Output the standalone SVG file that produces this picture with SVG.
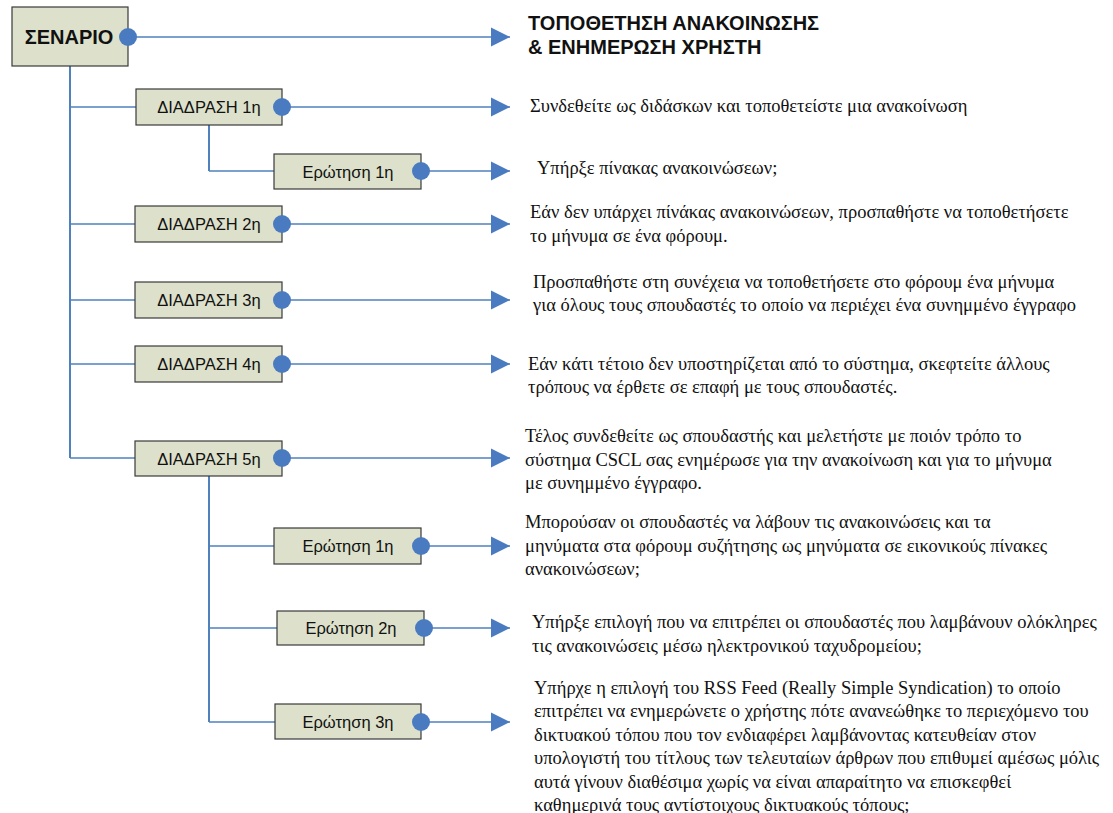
<svg xmlns="http://www.w3.org/2000/svg" width="1113" height="813" viewBox="0 0 1113 813">
  <style>
    .box { fill: #dde1cb; stroke: #3a3a3a; stroke-width: 1.2; }
    .lbl { font-family: "Liberation Sans", Arial, sans-serif; font-size: 16.5px; fill: #111; text-anchor: middle; }
    .root { font-family: "Liberation Sans", Arial, sans-serif; font-size: 20px; font-weight: bold; fill: #111; text-anchor: middle; }
    .dot { fill: #4a7bc0; }
    .wire { stroke: #4f81bd; stroke-width: 1.5; fill: none; }
    .trunk { stroke: #4f81bd; stroke-width: 2; fill: none; }
    .arrow { stroke: #4f81bd; stroke-width: 1.5; fill: none; marker-end: url(#head); }
    .title { font-family: "Liberation Sans", Arial, sans-serif; font-size: 20px; font-weight: bold; fill: #111; }
    .body { font-family: "Liberation Serif", "Times New Roman", serif; font-size: 18.5px; fill: #111; }
  </style>
  <defs>
    <marker id="head" markerUnits="userSpaceOnUse" markerWidth="20" markerHeight="20" viewBox="0 0 20 20" refX="19" refY="10" orient="auto">
      <path d="M0,0.5 L19,10 L0,19.5 Z" fill="#4a7bc0"/>
    </marker>
  </defs>
  <rect width="1113" height="813" fill="#ffffff"/>

  <!-- tree lines and arrows -->
  <g id="connectors">
    <path class="trunk" d="M70,66 V458"/>
    <path class="wire" d="M70,107 H136 M70,224 H135 M70,300 H135 M70,364 H135 M70,458 H135"/>
    <path class="trunk" d="M209,125 V171"/>
    <path class="wire" d="M209,171 H274"/>
    <path class="trunk" d="M209,476 V722"/>
    <path class="wire" d="M209,546 H274 M209,628 H277 M209,722 H275"/>

    <path class="arrow" d="M128,37 H510"/>
    <path class="arrow" d="M282,107 H510"/>
    <path class="arrow" d="M421,171 H510"/>
    <path class="arrow" d="M282,224 H510"/>
    <path class="arrow" d="M282,300 H510"/>
    <path class="arrow" d="M282,364 H510"/>
    <path class="arrow" d="M282,458 H510"/>
    <path class="arrow" d="M421,546 H510"/>
    <path class="arrow" d="M424,628 H510"/>
    <path class="arrow" d="M421,722 H510"/>
  </g>

  <!-- nodes -->
  <g id="senario">
    <rect class="box" x="12" y="7" width="116" height="59"/>
    <text class="root" x="69" y="44">ΣΕΝΑΡΙΟ</text>
    <circle class="dot" cx="128" cy="37" r="9"/>
  </g>
  <g id="d1">
    <rect class="box" x="136" y="89" width="146" height="36"/>
    <text class="lbl" x="209" y="113">ΔΙΑΔΡΑΣΗ 1η</text>
    <circle class="dot" cx="282" cy="107" r="9"/>
  </g>
  <g id="d1-q1">
    <rect class="box" x="274" y="154" width="147" height="35"/>
    <text class="lbl" x="348" y="177.5">Ερώτηση 1η</text>
    <circle class="dot" cx="421" cy="171" r="9"/>
  </g>
  <g id="d2">
    <rect class="box" x="135" y="206" width="147" height="36"/>
    <text class="lbl" x="209" y="230">ΔΙΑΔΡΑΣΗ 2η</text>
    <circle class="dot" cx="282" cy="224" r="9"/>
  </g>
  <g id="d3">
    <rect class="box" x="135" y="282" width="147" height="36"/>
    <text class="lbl" x="209" y="306">ΔΙΑΔΡΑΣΗ 3η</text>
    <circle class="dot" cx="282" cy="300" r="9"/>
  </g>
  <g id="d4">
    <rect class="box" x="135" y="346" width="147" height="36"/>
    <text class="lbl" x="209" y="370">ΔΙΑΔΡΑΣΗ 4η</text>
    <circle class="dot" cx="282" cy="364" r="9"/>
  </g>
  <g id="d5">
    <rect class="box" x="135" y="441" width="147" height="35"/>
    <text class="lbl" x="209" y="464.5">ΔΙΑΔΡΑΣΗ 5η</text>
    <circle class="dot" cx="282" cy="458" r="9"/>
  </g>
  <g id="d5-q1">
    <rect class="box" x="274" y="528" width="147" height="36"/>
    <text class="lbl" x="348" y="552">Ερώτηση 1η</text>
    <circle class="dot" cx="421" cy="546" r="9"/>
  </g>
  <g id="d5-q2">
    <rect class="box" x="277" y="611" width="147" height="34"/>
    <text class="lbl" x="351" y="634">Ερώτηση 2η</text>
    <circle class="dot" cx="424" cy="628" r="9"/>
  </g>
  <g id="d5-q3">
    <rect class="box" x="275" y="704" width="146" height="35"/>
    <text class="lbl" x="348" y="727.5">Ερώτηση 3η</text>
    <circle class="dot" cx="421" cy="722" r="9"/>
  </g>

  <!-- descriptions -->
  <g id="texts">
    <text class="title" x="528" y="30">ΤΟΠΟΘΕΤΗΣΗ ΑΝΑΚΟΙΝΩΣΗΣ</text>
    <text class="title" x="528" y="54">&amp; ΕΝΗΜΕΡΩΣΗ ΧΡΗΣΤΗ</text>

    <text class="body" x="530" y="112">Συνδεθείτε ως διδάσκων και τοποθετείστε μια ανακοίνωση</text>
    <text class="body" x="537" y="174">Υπήρξε πίνακας ανακοινώσεων;</text>

    <text class="body" x="530" y="218">Εάν δεν υπάρχει πίνάκας ανακοινώσεων, προσπαθήστε να τοποθετήσετε</text>
    <text class="body" x="530" y="242">το μήνυμα σε ένα φόρουμ.</text>

    <text class="body" x="533" y="288">Προσπαθήστε στη συνέχεια να τοποθετήσετε στο φόρουμ ένα μήνυμα</text>
    <text class="body" x="533" y="311">για όλους τους σπουδαστές το οποίο να περιέχει ένα συνημμένο έγγραφο</text>

    <text class="body" x="528" y="370">Εάν κάτι τέτοιο δεν υποστηρίζεται από το σύστημα, σκεφτείτε άλλους</text>
    <text class="body" x="528" y="393">τρόπους να έρθετε σε επαφή με τους σπουδαστές.</text>

    <text class="body" x="525" y="442">Τέλος συνδεθείτε ως σπουδαστής και μελετήστε με ποιόν τρόπο το</text>
    <text class="body" x="525" y="466">σύστημα CSCL σας ενημέρωσε για την ανακοίνωση και για το μήνυμα</text>
    <text class="body" x="525" y="489">με συνημμένο έγγραφο.</text>

    <text class="body" x="525" y="528">Μπορούσαν οι σπουδαστές να λάβουν τις ανακοινώσεις και τα</text>
    <text class="body" x="525" y="552">μηνύματα στα φόρουμ συζήτησης ως μηνύματα σε εικονικούς πίνακες</text>
    <text class="body" x="525" y="575">ανακοινώσεων;</text>

    <text class="body" x="532" y="628">Υπήρξε επιλογή που να επιτρέπει οι σπουδαστές που λαμβάνουν ολόκληρες</text>
    <text class="body" x="532" y="652">τις ανακοινώσεις μέσω ηλεκτρονικού ταχυδρομείου;</text>

    <text class="body" x="534" y="694">Υπήρχε η επιλογή του RSS Feed (Really Simple Syndication) το οποίο</text>
    <text class="body" x="534" y="717">επιτρέπει να ενημερώνετε ο χρήστης πότε ανανεώθηκε το περιεχόμενο του</text>
    <text class="body" x="534" y="741">δικτυακού τόπου που τον ενδιαφέρει λαμβάνοντας κατευθείαν στον</text>
    <text class="body" x="534" y="764">υπολογιστή του τίτλους των τελευταίων άρθρων που επιθυμεί αμέσως μόλις</text>
    <text class="body" x="534" y="788">αυτά γίνουν διαθέσιμα χωρίς να είναι απαραίτητο να επισκεφθεί</text>
    <text class="body" x="534" y="811">καθημερινά τους αντίστοιχους δικτυακούς τόπους;</text>
  </g>
</svg>
